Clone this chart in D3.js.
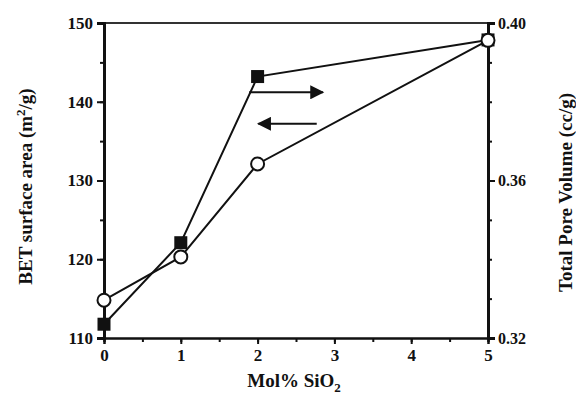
<!DOCTYPE html>
<html>
<head>
<meta charset="utf-8">
<script src="https://cdn.jsdelivr.net/npm/d3@7"></script>
<style>
  body { margin: 0; background: #fff; }
  svg text { font-family: "Liberation Serif", "DejaVu Serif", serif; font-weight: bold; fill: #111; }
</style>
</head>
<body>
<div id="app"></div>
<script>
// data
const molSiO2 = [0, 1, 2, 5]
const betArea = [114.8, 120.3, 132.1, 147.8]       // open circles, left axis
const poreVolume = [0.3235, 0.3442, 0.3864, 0.3957] // filled squares, right axis
const xTicks = [0, 1, 2, 3, 4, 5]
const leftTicks = [110, 120, 130, 140, 150]
const rightTicks = [0.32, 0.36, 0.40]

const width = 576, height = 403
const plotLeft = 104, plotRight = 488, plotTop = 23, plotBottom = 338

const svg = d3.select('#app').append('svg')
    .attr('width', width).attr('height', height)

const x = d3.scaleLinear().domain([0, 5]).range([plotLeft, plotRight])
const yL = d3.scaleLinear().domain([110, 150]).range([plotBottom, plotTop])
const yR = d3.scaleLinear().domain([0.32, 0.40]).range([plotBottom, plotTop])

// frame top
svg.append('line').attr('x1', plotLeft).attr('x2', plotRight).attr('y1', plotTop).attr('y2', plotTop)
    .attr('stroke', '#333').attr('stroke-width', 2)

// minor ticks
svg.append('g').attr('transform', `translate(0,${plotBottom})`)
    .call(d3.axisBottom(x).tickValues(d3.range(0, 5.01, 0.5)).tickSize(4).tickFormat(''))
svg.append('g').attr('transform', `translate(${plotLeft},0)`)
    .call(d3.axisLeft(yL).tickValues(d3.range(110, 151, 5)).tickSize(4).tickFormat(''))
svg.append('g').attr('transform', `translate(${plotRight},0)`)
    .call(d3.axisRight(yR).tickValues(d3.range(0.32, 0.4001, 0.01)).tickSize(4).tickFormat(''))

const xAxis = svg.append('g').attr('transform', `translate(0,${plotBottom})`)
    .call(d3.axisBottom(x).tickValues(xTicks).tickSize(6).tickPadding(5).tickFormat(d3.format('d')))
const lAxis = svg.append('g').attr('transform', `translate(${plotLeft},0)`)
    .call(d3.axisLeft(yL).tickValues(leftTicks).tickSize(7).tickPadding(4).tickFormat(d3.format('d')))
const rAxis = svg.append('g').attr('transform', `translate(${plotRight},0)`)
    .call(d3.axisRight(yR).tickValues(rightTicks).tickSize(7).tickPadding(3).tickFormat(d3.format('.2f')))

svg.selectAll('.domain').attr('stroke', '#111').attr('stroke-width', 2)
svg.selectAll('.tick line').attr('stroke', '#111').attr('stroke-width', 2)
lAxis.select('.domain').attr('stroke-width', 3)
rAxis.select('.domain').attr('stroke-width', 3)
svg.selectAll('.tick text').style('font-size', '17px').attr('fill', '#111')
rAxis.selectAll('.tick text').style('font-size', '16px')

// lines
const poreLine = d3.line().x((d, i) => x(molSiO2[i])).y(d => yR(d))
const betLine = d3.line().x((d, i) => x(molSiO2[i])).y(d => yL(d))

svg.append('path').attr('d', poreLine(poreVolume))
    .attr('fill', 'none').attr('stroke', '#111').attr('stroke-width', 2)
svg.append('path').attr('d', betLine(betArea))
    .attr('fill', 'none').attr('stroke', '#111').attr('stroke-width', 2)

const sq = 13
svg.selectAll('rect.sq').data(poreVolume).enter().append('rect')
    .attr('class', 'sq')
    .attr('x', (d, i) => x(molSiO2[i]) - sq / 2)
    .attr('y', d => yR(d) - sq / 2)
    .attr('width', sq).attr('height', sq)
    .attr('fill', '#111')

svg.selectAll('circle').data(betArea).enter().append('circle')
    .attr('cx', (d, i) => x(molSiO2[i]))
    .attr('cy', d => yL(d))
    .attr('r', 6.5)
    .attr('fill', '#fff').attr('stroke', '#111').attr('stroke-width', 2)

// arrows telling which axis each curve belongs to
svg.append('defs').append('marker')
    .attr('id', 'head').attr('viewBox', '0 0 10 10')
    .attr('refX', 9).attr('refY', 5)
    .attr('markerWidth', 18).attr('markerHeight', 14)
    .attr('markerUnits', 'userSpaceOnUse')
    .attr('orient', 'auto')
    .append('path').attr('d', 'M0,0 L10,5 L0,10 Z').attr('fill', '#111')

svg.append('line').attr('x1', x(1.89)).attr('x2', x(2.85))
    .attr('y1', yR(0.3824)).attr('y2', yR(0.3824))
    .attr('stroke', '#111').attr('stroke-width', 2).attr('marker-end', 'url(#head)')
svg.append('line').attr('x1', x(2.77)).attr('x2', x(2.01))
    .attr('y1', yL(137.2)).attr('y2', yL(137.2))
    .attr('stroke', '#111').attr('stroke-width', 2).attr('marker-end', 'url(#head)')

// axis titles
const yl = svg.append('text')
    .attr('transform', `translate(32,${(plotTop + plotBottom) / 2 + 6}) rotate(-90)`)
    .attr('text-anchor', 'middle').style('font-size', '19px')
yl.append('tspan').text('BET surface area (m')
yl.append('tspan').text('2').attr('dy', -7).style('font-size', '13px')
yl.append('tspan').text('/g)').attr('dy', 7)

svg.append('text')
    .attr('transform', `translate(572,${(plotTop + plotBottom) / 2 + 12}) rotate(-90)`)
    .attr('text-anchor', 'middle').style('font-size', '19px')
    .text('Total Pore Volume (cc/g)')

const xl = svg.append('text')
    .attr('x', (plotLeft + plotRight) / 2 - 2).attr('y', 387)
    .attr('text-anchor', 'middle').style('font-size', '19px')
xl.append('tspan').text('Mol% SiO')
xl.append('tspan').text('2').attr('dy', 5).style('font-size', '13px')
</script>
</body>
</html>
